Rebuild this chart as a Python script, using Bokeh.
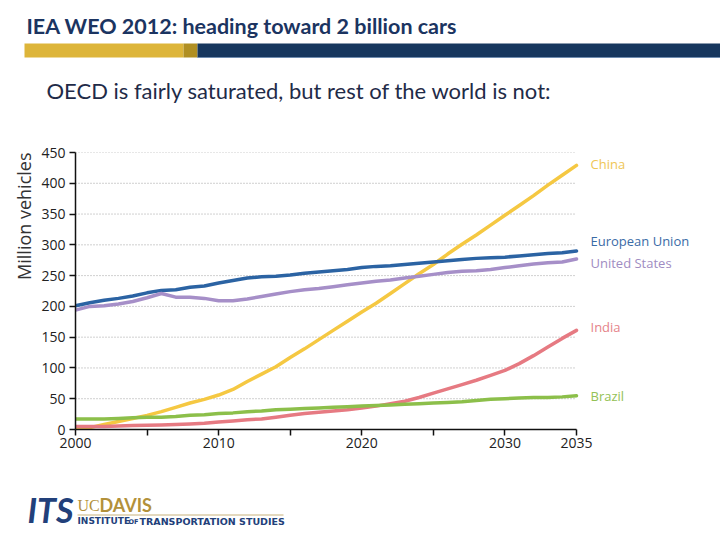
from bokeh.plotting import figure
from bokeh.models import Range1d, Label, FixedTicker, Title
from bokeh.embed import file_html
from bokeh.resources import INLINE

# ---------------- data ----------------
years = list(range(2000, 2036))
china = [1, 3, 8, 13, 18, 23, 29, 36, 43, 49, 56, 65, 78, 90, 102, 117, 131, 146,
         161, 176, 191, 205, 221, 237, 253, 268, 285, 301, 316, 332, 348, 364, 380,
         397, 413, 429]
eu = [201, 206, 210, 213, 217, 222, 226, 227, 231, 233, 238, 242, 246, 248, 249, 251,
      254, 256, 258, 260, 263, 265, 266, 268, 270, 272, 274, 276, 278, 279, 280, 282,
      284, 286, 287, 290]
us = [194, 200, 201, 204, 208, 214, 221, 215, 215, 213, 209, 209, 212, 216, 220, 224,
      227, 229, 232, 235, 238, 241, 243, 246, 249, 252, 255, 257, 258, 260, 263, 266,
      269, 271, 272, 277]
india = [5, 5, 5, 5.5, 6.5, 7, 7.5, 8, 9, 10, 12, 14, 16, 17, 20, 23, 26, 28, 30, 32,
         35, 38, 42, 46, 52, 59, 66, 73, 80, 88, 96, 107, 120, 134, 148, 161]
brazil = [17, 17, 17, 18, 19, 20, 20, 21, 23, 24, 26, 27, 29, 30, 32, 33, 34, 35, 36,
          37, 38, 39, 40, 41, 42, 43, 44, 45, 47, 49, 50, 51, 52, 52, 53, 55]

series_names = ["China", "European Union", "United States", "India", "Brazil"]
series_values = [china, eu, us, india, brazil]
x_ticks = list(range(2000, 2036, 5))
x_tick_labels = {2005: "", 2015: "", 2025: ""}
y_ticks = list(range(0, 451, 50))

# ---------------- styles ----------------
line_colors = ["#F5C842", "#2B63A3", "#A68FC8", "#E67A82", "#8CBF4A"]
label_colors = ["#EFC655", "#3A6BA6", "#A08CC2", "#E5838A", "#93C155"]
label_y = [432, 307, 270, 166, 55]
NAVY = "#1B3461"
GOLD = "#DDB53A"
PAGE_W = 720


def text_label(fig, x, baseline, text, size, **kw):
    """Label whose alphabetic baseline sits at `baseline` (page pixels)."""
    fig.add_layout(Label(x=x, y=baseline - 0.47 * size, text=text,
                         text_font_size=f"{size}px", text_baseline="alphabetic", **kw))


# ---------------- header ----------------
hdr = figure(width=PAGE_W, height=118, x_range=Range1d(0, PAGE_W), y_range=Range1d(118, 0),
             toolbar_location=None, output_backend="svg", x_axis_type=None,
             y_axis_type=None, min_border=0)
hdr.grid.visible = False
hdr.outline_line_color = None
hdr.quad(left=[24, 183, 197], right=[183, 197, PAGE_W], top=[43, 43, 43],
         bottom=[57, 57, 57], fill_color=[GOLD, "#B08F22", "#17375E"], line_color=None)
hdr.segment(x0=[197], y0=[57], x1=[PAGE_W], y1=[57], line_color="#6F8CB0", line_width=1)
text_label(hdr, 26, 36, "IEA WEO 2012: heading toward 2 billion cars", 21.5,
           text_font="Lato", text_font_style="bold", text_color=NAVY)
text_label(hdr, 46, 100, "OECD is fairly saturated, but rest of the world is not:", 22,
           text_font="Lato", text_color="#1F2B48")

# ---------------- chart ----------------
frame_w = 501          # pixels from 2000 to 2035
right_pad = 144        # pixels right of 2035 kept for the series names
x_end = 2035 + right_pad * 35 / frame_w
p = figure(width=PAGE_W, height=344, x_range=Range1d(2000, x_end), y_range=Range1d(0, 450),
           toolbar_location=None, output_backend="svg",
           min_border_left=75, min_border_right=0, min_border_top=34,
           min_border_bottom=33)
p.outline_line_color = None
p.xgrid.visible = False
p.ygrid.visible = False
p.segment(x0=[2000] * (len(y_ticks) - 1), x1=[2035] * (len(y_ticks) - 1),
          y0=y_ticks[1:], y1=y_ticks[1:], line_color="#A0A0A0", line_dash="1 2",
          line_width=1)

p.xaxis.ticker = FixedTicker(ticks=x_ticks)
p.xaxis.major_label_overrides = x_tick_labels
p.xaxis.bounds = (2000, 2035)
p.yaxis.ticker = FixedTicker(ticks=y_ticks)
for ax in (p.xaxis, p.yaxis):
    ax.minor_tick_line_color = None
    ax.major_tick_in = 0
    ax.major_tick_out = 6
    ax.axis_line_color = "#111111"
    ax.axis_line_width = 1.5
    ax.major_tick_line_color = "#111111"
    ax.major_tick_line_width = 1.5
    ax.major_label_text_font = "Open Sans"
    ax.major_label_text_font_size = "14px"
    ax.major_label_text_color = "#222222"
p.xaxis.major_label_standoff = 2
p.yaxis.major_label_standoff = 4

for name, vals, col in zip(series_names, series_values, line_colors):
    p.line(years, vals, line_color=col, line_width=3.5, line_join="round", line_cap="round")

for name, ly, col in zip(series_names, label_y, label_colors):
    p.add_layout(Label(x=2035, y=ly, x_offset=14, text=name, text_font="Open Sans",
                       text_font_size="13px", text_color=col, text_baseline="middle"))

p.add_layout(Title(text="Million vehicles", align="right", offset=0, standoff=6,
                   text_font="Open Sans", text_font_size="18px", text_font_style="normal",
                   text_color="#333333"), "left")

# ---------------- footer (logo) ----------------
ftr = figure(width=PAGE_W, height=78, x_range=Range1d(0, PAGE_W), y_range=Range1d(540, 462),
             toolbar_location=None, output_backend="svg", x_axis_type=None,
             y_axis_type=None, min_border=0)
ftr.grid.visible = False
ftr.outline_line_color = None
ftr.segment(x0=[77], y0=[514.5], x1=[283], y1=[514.5], line_color="#C8B27C", line_width=1)
text_label(ftr, 27, 525, "ITS", 34, text_font="Lato", text_font_style="bold italic",
           text_color="#22407A")
text_label(ftr, 77, 513, "UC", 16, text_font="Liberation Serif", text_color="#B3913A")
text_label(ftr, 99, 513, "DAVIS", 18, text_font="Lato", text_font_style="bold",
           text_color="#B3913A")
text_label(ftr, 77, 525, "INSTITUTE", 9, text_font="DejaVu Sans", text_font_style="bold",
           text_color="#22407A")
text_label(ftr, 128, 525, "OF", 6.5, text_font="DejaVu Sans", text_font_style="bold",
           text_color="#22407A")
text_label(ftr, 139, 525, "TRANSPORTATION STUDIES", 9.5, text_font="DejaVu Sans",
           text_font_style="bold", text_color="#22407A")

open("out.html", "w").write(file_html([hdr, p, ftr], INLINE))
